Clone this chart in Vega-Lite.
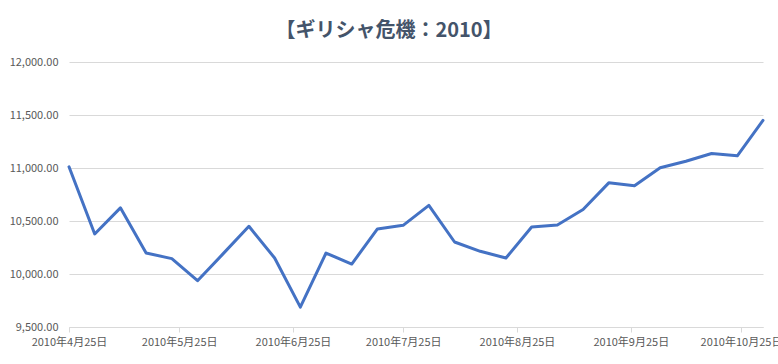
{
  "$schema": "https://vega.github.io/schema/vega-lite/v6.json",
  "autosize": "none",
  "width": 694,
  "height": 265,
  "padding": {"left": 69, "top": 62, "right": 15, "bottom": 37},
  "background": "white",
  "title": {
    "text": "【ギリシャ危機：2010】",
    "font": "Noto Sans CJK JP",
    "fontSize": 20,
    "fontWeight": "bold",
    "color": "#44546A",
    "anchor": "middle",
    "offset": 15,
    "dx": -27
  },
  "data": {
    "values": [
      {"date": "2010-04-25", "value": 11011},
      {"date": "2010-05-02", "value": 10378},
      {"date": "2010-05-09", "value": 10624},
      {"date": "2010-05-16", "value": 10198},
      {"date": "2010-05-23", "value": 10145},
      {"date": "2010-05-30", "value": 9937},
      {"date": "2010-06-06", "value": 10192},
      {"date": "2010-06-13", "value": 10450},
      {"date": "2010-06-20", "value": 10151},
      {"date": "2010-06-27", "value": 9688},
      {"date": "2010-07-04", "value": 10198},
      {"date": "2010-07-11", "value": 10094},
      {"date": "2010-07-18", "value": 10425},
      {"date": "2010-07-25", "value": 10459},
      {"date": "2010-08-01", "value": 10648},
      {"date": "2010-08-08", "value": 10302},
      {"date": "2010-08-15", "value": 10214},
      {"date": "2010-08-22", "value": 10151},
      {"date": "2010-08-29", "value": 10444},
      {"date": "2010-09-05", "value": 10463},
      {"date": "2010-09-12", "value": 10608},
      {"date": "2010-09-19", "value": 10860},
      {"date": "2010-09-26", "value": 10832},
      {"date": "2010-10-03", "value": 11002},
      {"date": "2010-10-10", "value": 11064},
      {"date": "2010-10-17", "value": 11137},
      {"date": "2010-10-24", "value": 11115},
      {"date": "2010-10-31", "value": 11449}
    ]
  },
  "mark": {"type": "line", "color": "#4472C4", "strokeWidth": 3, "strokeJoin": "round", "strokeCap": "round"},
  "encoding": {
    "x": {
      "field": "date",
      "type": "temporal",
      "scale": {"type": "utc", "nice": false, "padding": 0},
      "axis": {
        "title": null,
        "grid": false,
        "values": [
          {"year": 2010, "month": 4, "date": 25, "utc": true},
          {"year": 2010, "month": 5, "date": 25, "utc": true},
          {"year": 2010, "month": 6, "date": 25, "utc": true},
          {"year": 2010, "month": 7, "date": 25, "utc": true},
          {"year": 2010, "month": 8, "date": 25, "utc": true},
          {"year": 2010, "month": 9, "date": 25, "utc": true},
          {"year": 2010, "month": 10, "date": 25, "utc": true}
        ],
        "labelExpr": "utcFormat(datum.value, '%Y年%-m月%-d日')",
        "labelFont": "Noto Sans CJK JP",
        "labelFontSize": 11,
        "labelColor": "#595959",
        "labelPadding": 4,
        "labelOverlap": false,
        "labelFlush": false,
        "domainColor": "#D9D9D9",
        "tickColor": "#D9D9D9",
        "tickSize": 5
      }
    },
    "y": {
      "field": "value",
      "type": "quantitative",
      "scale": {"domain": [9500, 12000], "nice": false, "zero": false},
      "axis": {
        "title": null,
        "values": [9500, 10000, 10500, 11000, 11500, 12000],
        "format": ",.2f",
        "labelFont": "Noto Sans CJK JP",
        "labelFontSize": 11,
        "labelColor": "#595959",
        "labelPadding": 11,
        "domain": false,
        "ticks": false,
        "gridColor": "#D9D9D9"
      }
    }
  },
  "config": {"view": {"stroke": null}}
}
